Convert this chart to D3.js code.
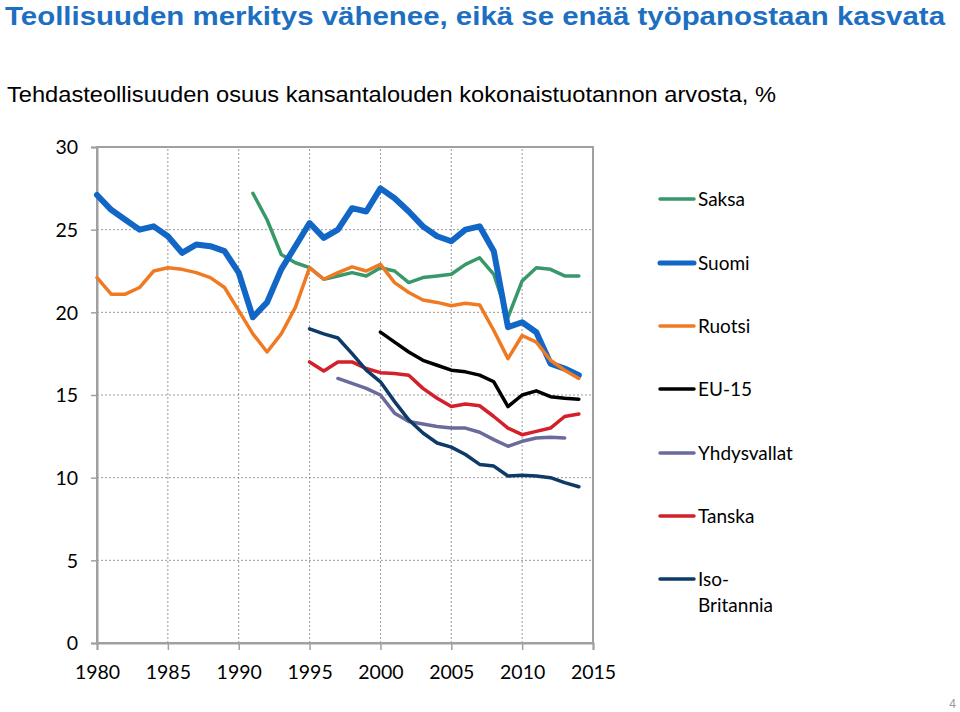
<!DOCTYPE html>
<html>
<head>
<meta charset="utf-8">
<script src="https://cdn.jsdelivr.net/npm/d3@7"></script>
<style>
  html, body { margin: 0; padding: 0; background: #fff; }
  svg { display: block; }
</style>
</head>
<body>
<svg id="chart" width="960" height="712"></svg>
<script>
const title = "Teollisuuden merkitys vähenee, eikä se enää työpanostaan kasvata";
const subtitle = "Tehdasteollisuuden osuus kansantalouden kokonaistuotannon arvosta, %";

const xTicks = [1980, 1985, 1990, 1995, 2000, 2005, 2010, 2015];
const yTicks = [0, 5, 10, 15, 20, 25, 30];

const seriesNames = ["Saksa", "Suomi", "Ruotsi", "EU-15", "Yhdysvallat", "Tanska", "Iso-Britannia"];
const legendLabels = [["Saksa"], ["Suomi"], ["Ruotsi"], ["EU-15"], ["Yhdysvallat"], ["Tanska"], ["Iso-", "Britannia"]];
const startYears = [1991, 1980, 1980, 2000, 1997, 1995, 1995];

const saksa = [27.2, 25.6, 23.5, 23.0, 22.7, 22.0, 22.2, 22.4, 22.2, 22.7, 22.5, 21.8, 22.1, 22.2, 22.3, 22.9, 23.3, 22.3, 19.7, 21.9, 22.7, 22.6, 22.2, 22.2];
const suomi = [27.1, 26.2, 25.6, 25.0, 25.2, 24.6, 23.6, 24.1, 24.0, 23.7, 22.4, 19.7, 20.6, 22.6, 24.0, 25.4, 24.5, 25.0, 26.3, 26.1, 27.5, 26.9, 26.1, 25.2, 24.6, 24.3, 25.0, 25.2, 23.7, 19.1, 19.4, 18.8, 16.9, 16.6, 16.2];
const ruotsi = [22.1, 21.1, 21.1, 21.5, 22.5, 22.7, 22.6, 22.4, 22.1, 21.5, 20.1, 18.7, 17.6, 18.7, 20.3, 22.7, 22.0, 22.4, 22.75, 22.5, 22.9, 21.8, 21.2, 20.75, 20.6, 20.4, 20.55, 20.45, 18.9, 17.2, 18.6, 18.2, 17.1, 16.5, 16.0];
const eu15 = [18.8, 18.2, 17.6, 17.1, 16.8, 16.5, 16.4, 16.2, 15.8, 14.3, 15.0, 15.25, 14.9, 14.8, 14.75];
const yhdysvallat = [16.0, 15.7, 15.4, 15.0, 13.9, 13.4, 13.25, 13.1, 13.0, 13.0, 12.75, 12.3, 11.9, 12.2, 12.4, 12.45, 12.4];
const tanska = [17.0, 16.45, 17.0, 17.0, 16.6, 16.35, 16.3, 16.2, 15.4, 14.8, 14.3, 14.45, 14.35, 13.7, 13.0, 12.6, 12.8, 13.0, 13.7, 13.85];
const isoBritannia = [19.0, 18.7, 18.45, 17.5, 16.5, 15.8, 14.6, 13.5, 12.7, 12.1, 11.85, 11.4, 10.8, 10.7, 10.1, 10.15, 10.1, 10.0, 9.7, 9.45];

const seriesValues = [saksa, suomi, ruotsi, eu15, yhdysvallat, tanska, isoBritannia];
const colors = ["#38986a", "#1166c6", "#f07a22", "#000000", "#6b6b9b", "#d3202b", "#0d3a66"];
const widths = [3.5, 6, 3.5, 3.5, 3.5, 3.5, 3.5];

const svg = d3.select("#chart");

svg.append("text")
  .attr("x", 5).attr("y", 25)
  .attr("font-family", "Liberation Sans, Arial, sans-serif")
  .attr("font-weight", "bold")
  .attr("font-size", 25)
  .attr("fill", "#1d6fc2")
  .attr("textLength", 940)
  .attr("lengthAdjust", "spacingAndGlyphs")
  .text(title);

svg.append("text")
  .attr("x", 7).attr("y", 102)
  .attr("font-family", "Liberation Sans, Arial, sans-serif")
  .attr("font-size", 21.5)
  .attr("fill", "#000")
  .attr("textLength", 769)
  .attr("lengthAdjust", "spacingAndGlyphs")
  .text(subtitle);

const x = d3.scaleLinear().domain([1980, 2015]).range([97, 593]);
const y = d3.scaleLinear().domain([0, 30]).range([643, 147]);

const g = svg.append("g");

// grid
g.append("g").selectAll("line").data(yTicks.filter(d => d > 0 && d < 30)).join("line")
  .attr("x1", x(1980)).attr("x2", x(2015))
  .attr("y1", d => y(d)).attr("y2", d => y(d))
  .attr("stroke", "#9a9a9a").attr("stroke-width", 1).attr("stroke-dasharray", "2,2");
g.append("g").selectAll("line").data(xTicks.filter(d => d > 1980 && d < 2015)).join("line")
  .attr("x1", d => x(d)).attr("x2", d => x(d))
  .attr("y1", y(0)).attr("y2", y(30))
  .attr("stroke", "#9a9a9a").attr("stroke-width", 1).attr("stroke-dasharray", "2,2");

// frame
g.append("rect")
  .attr("x", x(1980)).attr("y", y(30))
  .attr("width", x(2015) - x(1980)).attr("height", y(0) - y(30))
  .attr("fill", "none").attr("stroke", "#a0a0a0").attr("stroke-width", 2);

// axes
const yAxis = d3.axisLeft(y).tickValues(yTicks).tickSize(6).tickPadding(13).tickFormat(d3.format("d"));
const xAxis = d3.axisBottom(x).tickValues(xTicks).tickSize(7).tickPadding(11).tickFormat(d3.format("d"));

const ya = g.append("g").attr("transform", `translate(${x(1980)},0)`).call(yAxis);
const xa = g.append("g").attr("transform", `translate(0,${y(0)})`).call(xAxis);
[ya, xa].forEach(a => {
  a.select(".domain").attr("stroke", "#a0a0a0").attr("stroke-width", 2);
  a.selectAll(".tick line").attr("stroke", "#a0a0a0").attr("stroke-width", 1.5);
  a.selectAll(".tick text")
    .attr("font-family", "Lato, Carlito, Calibri, sans-serif")
    .attr("font-size", 19.5)
    .attr("fill", "#000");
});
ya.selectAll(".tick text").attr("dy", "0.35em");
xa.selectAll(".tick text").attr("dy", "0.9em");

// lines
const line = d3.line().x(d => x(d[0])).y(d => y(d[1]));
seriesValues.forEach((vals, i) => {
  const pts = vals.map((v, k) => [startYears[i] + k, v]);
  g.append("path")
    .attr("d", line(pts))
    .attr("fill", "none")
    .attr("stroke", colors[i])
    .attr("stroke-width", widths[i])
    .attr("stroke-linejoin", "round")
    .attr("stroke-linecap", "round");
});

// legend
const legendY = [199, 263, 326, 389, 453, 516, 579];
const lg = svg.append("g");
seriesNames.forEach((name, i) => {
  lg.append("line")
    .attr("x1", 660).attr("x2", 694)
    .attr("y1", legendY[i]).attr("y2", legendY[i])
    .attr("stroke", colors[i])
    .attr("stroke-width", i === 1 ? 5 : 3.5)
    .attr("stroke-linecap", "round");
  const t = lg.append("text")
    .attr("x", 698).attr("y", legendY[i] + 7)
    .attr("font-family", "Lato, Carlito, Calibri, sans-serif")
    .attr("font-size", 19)
    .attr("fill", "#000");
  legendLabels[i].forEach((s, k) => {
    t.append("tspan").attr("x", 698).attr("dy", k === 0 ? 0 : 26).text(s);
  });
});

svg.append("text")
  .attr("x", 956).attr("y", 708)
  .attr("text-anchor", "end")
  .attr("font-family", "Liberation Sans, Arial, sans-serif")
  .attr("font-size", 12)
  .attr("fill", "#999")
  .text("4");
</script>
</body>
</html>
